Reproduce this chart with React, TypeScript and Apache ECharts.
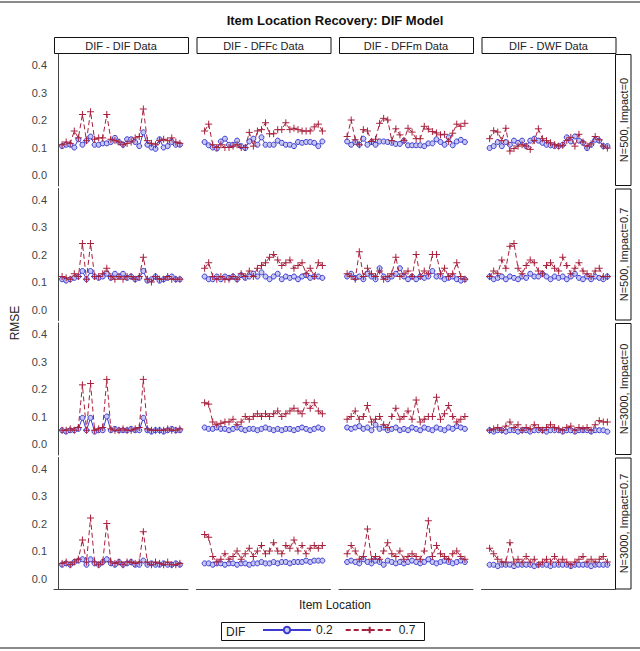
import React, { useEffect, useRef } from 'react';
import * as echarts from 'echarts';

const itemLocations = [1,2,3,4,5,6,7,8,9,10,11,12,13,14,15,16,17,18,19,20,21,22,23,24,25,26,27,28,29,30];
const columnLabels = ['DIF - DIF Data', 'DIF - DFFc Data', 'DIF - DFFm Data', 'DIF - DWF Data'];
const rowLabels = ['N=500, Impact=0', 'N=500, Impact=0.7', 'N=3000, Impact=0', 'N=3000, Impact=0.7'];
const seriesNames = ['0.2', '0.7'];
const yTicks = [0, 0.1, 0.2, 0.3, 0.4];

// Row 1: N=500, Impact=0
const r1c1_02 = [0.105,0.11,0.11,0.10,0.13,0.11,0.125,0.14,0.11,0.11,0.115,0.115,0.12,0.135,0.12,0.11,0.13,0.13,0.12,0.105,0.155,0.11,0.10,0.095,0.13,0.10,0.105,0.12,0.11,0.11];
const r1c1_07 = [0.11,0.12,0.115,0.16,0.135,0.22,0.125,0.23,0.13,0.135,0.135,0.22,0.13,0.125,0.12,0.11,0.115,0.12,0.135,0.14,0.24,0.125,0.115,0.11,0.125,0.13,0.125,0.135,0.12,0.115];
const r1c2_02 = [0.12,0.108,0.10,0.096,0.122,0.132,0.11,0.11,0.125,0.105,0.098,0.122,0.132,0.11,0.137,0.11,0.11,0.11,0.125,0.117,0.11,0.11,0.105,0.12,0.117,0.12,0.12,0.117,0.105,0.122];
const r1c2_07 = [0.16,0.185,0.11,0.10,0.11,0.10,0.10,0.105,0.11,0.10,0.10,0.155,0.105,0.16,0.165,0.19,0.15,0.15,0.165,0.165,0.19,0.165,0.17,0.165,0.16,0.16,0.16,0.175,0.185,0.16];
const r1c3_02 = [0.122,0.11,0.12,0.11,0.132,0.11,0.12,0.11,0.122,0.122,0.12,0.117,0.113,0.113,0.125,0.108,0.108,0.108,0.108,0.105,0.115,0.115,0.13,0.12,0.11,0.137,0.108,0.122,0.128,0.12];
const r1c3_07 = [0.14,0.20,0.128,0.11,0.165,0.16,0.122,0.13,0.188,0.206,0.20,0.125,0.168,0.146,0.125,0.17,0.156,0.132,0.132,0.177,0.167,0.158,0.153,0.146,0.148,0.122,0.152,0.185,0.177,0.188];
const r1c4_02 = [0.098,0.105,0.12,0.105,0.12,0.11,0.125,0.117,0.125,0.105,0.125,0.132,0.125,0.117,0.11,0.108,0.105,0.105,0.11,0.137,0.122,0.14,0.125,0.117,0.098,0.11,0.128,0.125,0.105,0.105];
const r1c4_07 = [0.132,0.161,0.156,0.125,0.17,0.087,0.096,0.105,0.11,0.105,0.093,0.125,0.168,0.132,0.125,0.117,0.11,0.105,0.108,0.125,0.137,0.105,0.148,0.12,0.105,0.113,0.14,0.128,0.105,0.098];
// Row 2: N=500, Impact=0.7
const r2c1_02 = [0.11,0.105,0.11,0.115,0.12,0.14,0.11,0.14,0.12,0.115,0.12,0.13,0.115,0.13,0.12,0.13,0.115,0.12,0.11,0.115,0.14,0.105,0.11,0.12,0.105,0.11,0.115,0.12,0.11,0.11];
const r2c1_07 = [0.12,0.115,0.11,0.13,0.12,0.24,0.11,0.24,0.12,0.12,0.13,0.15,0.12,0.11,0.12,0.11,0.12,0.12,0.11,0.12,0.19,0.11,0.10,0.12,0.11,0.11,0.12,0.11,0.11,0.11];
const r2c2_02 = [0.12,0.11,0.11,0.12,0.11,0.12,0.115,0.12,0.11,0.125,0.115,0.12,0.13,0.12,0.135,0.12,0.11,0.12,0.13,0.11,0.12,0.115,0.12,0.11,0.12,0.125,0.115,0.12,0.12,0.115];
const r2c2_07 = [0.15,0.17,0.12,0.11,0.12,0.11,0.11,0.12,0.11,0.13,0.12,0.14,0.12,0.15,0.16,0.17,0.19,0.20,0.18,0.16,0.17,0.18,0.15,0.16,0.17,0.13,0.15,0.12,0.17,0.16];
const r2c3_02 = [0.12,0.13,0.115,0.12,0.11,0.13,0.12,0.11,0.15,0.12,0.11,0.12,0.13,0.15,0.12,0.11,0.12,0.11,0.12,0.115,0.12,0.14,0.12,0.12,0.11,0.115,0.12,0.11,0.105,0.11];
const r2c3_07 = [0.13,0.12,0.11,0.21,0.12,0.15,0.13,0.12,0.14,0.11,0.12,0.13,0.19,0.12,0.13,0.14,0.12,0.20,0.12,0.14,0.13,0.20,0.20,0.13,0.15,0.12,0.13,0.17,0.12,0.11];
const r2c4_02 = [0.12,0.11,0.115,0.12,0.11,0.12,0.115,0.11,0.12,0.115,0.13,0.12,0.12,0.13,0.12,0.11,0.12,0.115,0.12,0.11,0.12,0.13,0.115,0.11,0.12,0.11,0.12,0.115,0.11,0.12];
const r2c4_07 = [0.12,0.14,0.13,0.18,0.15,0.23,0.24,0.15,0.13,0.16,0.18,0.17,0.14,0.13,0.16,0.17,0.15,0.14,0.19,0.16,0.13,0.15,0.17,0.14,0.13,0.12,0.14,0.15,0.12,0.12];
// Row 3: N=3000, Impact=0
const r3c1_02 = [0.05,0.045,0.05,0.05,0.055,0.095,0.05,0.095,0.045,0.05,0.05,0.10,0.05,0.055,0.05,0.05,0.05,0.055,0.05,0.05,0.095,0.05,0.045,0.05,0.05,0.045,0.05,0.055,0.05,0.05];
const r3c1_07 = [0.05,0.05,0.055,0.05,0.06,0.215,0.05,0.22,0.05,0.055,0.06,0.235,0.055,0.05,0.05,0.055,0.05,0.05,0.055,0.06,0.235,0.055,0.05,0.05,0.05,0.05,0.055,0.05,0.05,0.055];
const r3c2_02 = [0.06,0.055,0.055,0.06,0.055,0.055,0.05,0.055,0.06,0.055,0.05,0.055,0.055,0.05,0.055,0.06,0.055,0.05,0.055,0.05,0.055,0.055,0.05,0.055,0.06,0.055,0.05,0.055,0.06,0.055];
const r3c2_07 = [0.15,0.145,0.08,0.07,0.075,0.08,0.08,0.09,0.07,0.08,0.10,0.09,0.10,0.11,0.10,0.11,0.10,0.11,0.12,0.10,0.11,0.12,0.13,0.12,0.11,0.15,0.13,0.15,0.12,0.11];
const r3c3_02 = [0.06,0.055,0.06,0.065,0.055,0.06,0.05,0.07,0.055,0.06,0.05,0.055,0.06,0.05,0.055,0.05,0.06,0.055,0.05,0.06,0.055,0.05,0.06,0.055,0.05,0.06,0.055,0.065,0.06,0.055];
const r3c3_07 = [0.09,0.10,0.12,0.09,0.10,0.14,0.08,0.09,0.10,0.07,0.06,0.10,0.13,0.09,0.10,0.12,0.09,0.16,0.08,0.09,0.10,0.10,0.17,0.09,0.11,0.14,0.10,0.08,0.09,0.10];
const r3c4_02 = [0.05,0.045,0.05,0.05,0.045,0.05,0.05,0.045,0.05,0.05,0.045,0.05,0.05,0.05,0.045,0.05,0.05,0.05,0.045,0.05,0.05,0.045,0.05,0.05,0.05,0.045,0.05,0.05,0.05,0.045];
const r3c4_07 = [0.05,0.055,0.06,0.05,0.065,0.08,0.06,0.07,0.05,0.06,0.055,0.07,0.06,0.05,0.06,0.07,0.06,0.055,0.05,0.06,0.065,0.05,0.06,0.055,0.06,0.05,0.07,0.085,0.08,0.08];
// Row 4: N=3000, Impact=0.7
const r4c1_02 = [0.05,0.055,0.05,0.06,0.065,0.07,0.05,0.07,0.055,0.05,0.06,0.07,0.055,0.05,0.06,0.05,0.055,0.06,0.05,0.05,0.065,0.05,0.055,0.05,0.05,0.055,0.05,0.05,0.055,0.05];
const r4c1_07 = [0.055,0.06,0.05,0.06,0.07,0.14,0.06,0.22,0.06,0.05,0.06,0.20,0.06,0.055,0.06,0.05,0.06,0.06,0.055,0.06,0.17,0.06,0.05,0.06,0.055,0.05,0.06,0.05,0.05,0.055];
const r4c2_02 = [0.055,0.055,0.05,0.055,0.055,0.05,0.055,0.055,0.05,0.055,0.055,0.05,0.055,0.055,0.06,0.055,0.055,0.06,0.055,0.06,0.06,0.055,0.06,0.06,0.06,0.065,0.06,0.065,0.065,0.065];
const r4c2_07 = [0.16,0.15,0.08,0.06,0.07,0.09,0.07,0.08,0.10,0.07,0.09,0.11,0.08,0.10,0.12,0.09,0.10,0.13,0.10,0.09,0.12,0.11,0.14,0.10,0.12,0.09,0.11,0.12,0.11,0.12];
const r4c3_02 = [0.06,0.065,0.06,0.055,0.07,0.06,0.055,0.065,0.06,0.05,0.065,0.06,0.055,0.06,0.055,0.06,0.065,0.06,0.055,0.06,0.07,0.06,0.055,0.06,0.065,0.06,0.055,0.06,0.065,0.06];
const r4c3_07 = [0.09,0.12,0.10,0.07,0.08,0.18,0.07,0.08,0.07,0.10,0.13,0.09,0.08,0.10,0.07,0.08,0.09,0.08,0.07,0.10,0.21,0.08,0.12,0.09,0.08,0.07,0.09,0.10,0.08,0.07];
const r4c4_02 = [0.05,0.05,0.045,0.05,0.05,0.05,0.045,0.05,0.05,0.05,0.05,0.045,0.05,0.05,0.05,0.045,0.05,0.05,0.05,0.05,0.045,0.05,0.05,0.05,0.05,0.045,0.05,0.05,0.05,0.05];
const r4c4_07 = [0.11,0.09,0.07,0.06,0.06,0.13,0.06,0.07,0.06,0.08,0.06,0.07,0.05,0.06,0.07,0.06,0.08,0.06,0.07,0.06,0.05,0.06,0.07,0.08,0.06,0.07,0.06,0.07,0.08,0.06];

const panels = [
  [[r1c1_02, r1c1_07], [r1c2_02, r1c2_07], [r1c3_02, r1c3_07], [r1c4_02, r1c4_07]],
  [[r2c1_02, r2c1_07], [r2c2_02, r2c2_07], [r2c3_02, r2c3_07], [r2c4_02, r2c4_07]],
  [[r3c1_02, r3c1_07], [r3c2_02, r3c2_07], [r3c3_02, r3c3_07], [r3c4_02, r3c4_07]],
  [[r4c1_02, r4c1_07], [r4c2_02, r4c2_07], [r4c3_02, r4c3_07], [r4c4_02, r4c4_07]],
];

const BLUE = '#3b3bd0';
const RED = '#a8203c';
const FONT = 'Liberation Sans, Arial, sans-serif';

const colLeft = [54, 196.5, 339, 481.5];
const colWidth = 134;
const rowTop = [54, 188.5, 323, 457.5];
const rowHeight = 132;
const stripLeft = 615.5;
const stripWidth = 15.5;

export default function App() {
  const ref = useRef<HTMLDivElement>(null);
  useEffect(() => {
    if (!ref.current) return;
    const chart = echarts.init(ref.current, null, { renderer: 'svg' });
    const grids: any[] = [];
    const xAxes: any[] = [];
    const yAxes: any[] = [];
    const series: any[] = [];
    const graphics: any[] = [];
    let idx = 0;
    for (let r = 0; r < 4; r++) {
      for (let c = 0; c < 4; c++) {
        grids.push({ left: colLeft[c], top: rowTop[r], width: colWidth, height: rowHeight });
        xAxes.push({
          type: 'value', gridIndex: idx, min: -1, max: 32,
          axisLine: { show: r === 3, onZero: false, lineStyle: { color: '#444', width: 1 } },
          axisTick: { show: false }, axisLabel: { show: false }, splitLine: { show: false },
        });
        yAxes.push({
          type: 'value', gridIndex: idx, min: -0.04, max: 0.44, interval: 0.02,
          axisLine: { show: c === 0, lineStyle: { color: '#444', width: 1 } },
          axisTick: { show: false }, splitLine: { show: false },
          axisLabel: {
            show: c === 0, margin: 7, color: '#444', fontSize: 11, fontFamily: FONT,
            formatter: (v: number) => {
              const t = yTicks.find((k) => Math.abs(k - v) < 1e-6);
              return t === undefined ? '' : t.toFixed(1);
            },
          },
        });
        const [d02, d07] = panels[r][c];
        series.push({
          type: 'line', name: seriesNames[0], xAxisIndex: idx, yAxisIndex: idx,
          data: itemLocations.map((x, i) => [x, d02[i]]),
          symbol: 'circle', symbolSize: 5,
          itemStyle: { color: '#c8c8f4', borderColor: BLUE, borderWidth: 1 },
          lineStyle: { color: BLUE, width: 1 },
          z: 2,
        });
        series.push({
          type: 'line', name: seriesNames[1], xAxisIndex: idx, yAxisIndex: idx,
          data: itemLocations.map((x, i) => [x, d07[i]]),
          symbol: 'path://M5,0 L5,10 M0,5 L10,5', symbolSize: 7,
          itemStyle: { color: 'none', borderColor: RED, borderWidth: 1 },
          lineStyle: { color: RED, width: 1, type: [5, 3] },
          z: 3,
        });
        idx++;
      }
    }
    graphics.push({ type: 'line', shape: { x1: 0, y1: 2, x2: 640, y2: 2 }, style: { stroke: '#8a8a8a', lineWidth: 2 } });
    graphics.push({ type: 'line', shape: { x1: 0, y1: 648, x2: 640, y2: 648 }, style: { stroke: '#8a8a8a', lineWidth: 2 } });
    graphics.push({ type: 'text', x: 335, y: 20, style: { text: 'Item Location Recovery: DIF Model', font: `bold 13px ${FONT}`, fill: '#111', align: 'center', verticalAlign: 'middle' } });
    for (let c = 0; c < 4; c++) {
      graphics.push({ type: 'rect', shape: { x: colLeft[c] + 0.5, y: 37.5, width: colWidth, height: 16 }, style: { fill: '#fff', stroke: '#111', lineWidth: 1 } });
      graphics.push({ type: 'text', x: colLeft[c] + colWidth / 2, y: 45.5, style: { text: columnLabels[c], font: `11px ${FONT}`, fill: '#222', align: 'center', verticalAlign: 'middle' } });
    }
    for (let r = 0; r < 4; r++) {
      graphics.push({ type: 'rect', shape: { x: stripLeft, y: rowTop[r] + 0.5, width: stripWidth, height: rowHeight - 1 }, style: { fill: '#fff', stroke: '#111', lineWidth: 1 } });
      graphics.push({ type: 'text', x: stripLeft + stripWidth / 2 + 0.5, y: rowTop[r] + rowHeight / 2, rotation: Math.PI / 2, style: { text: rowLabels[r], font: `11px ${FONT}`, fill: '#222', align: 'center', verticalAlign: 'middle' } });
    }
    graphics.push({ type: 'text', x: 15, y: 323, rotation: Math.PI / 2, style: { text: 'RMSE', font: `12px ${FONT}`, fill: '#222', align: 'center', verticalAlign: 'middle' } });
    graphics.push({ type: 'text', x: 335, y: 605, style: { text: 'Item Location', font: `12px ${FONT}`, fill: '#222', align: 'center', verticalAlign: 'middle' } });
    graphics.push({ type: 'rect', shape: { x: 221.5, y: 622.5, width: 203, height: 18 }, style: { fill: 'none', stroke: '#111', lineWidth: 1 } });
    graphics.push({ type: 'text', x: 226, y: 632, style: { text: 'DIF', font: `12px ${FONT}`, fill: '#222', align: 'left', verticalAlign: 'middle' } });

    chart.setOption({
      animation: false,
      backgroundColor: '#fff',
      grid: grids,
      xAxis: xAxes,
      yAxis: yAxes,
      series,
      legend: {
        data: seriesNames, left: 262, top: 624, itemWidth: 48, itemHeight: 8, itemGap: 12,
        textStyle: { fontSize: 12, fontFamily: FONT, color: '#222' },
        padding: 0,
      },
      graphic: graphics,
    });
    return () => chart.dispose();
  }, []);
  return <div ref={ref} style={{ position: 'fixed', left: 0, top: 0, width: 640, height: 651 }} />;
}
